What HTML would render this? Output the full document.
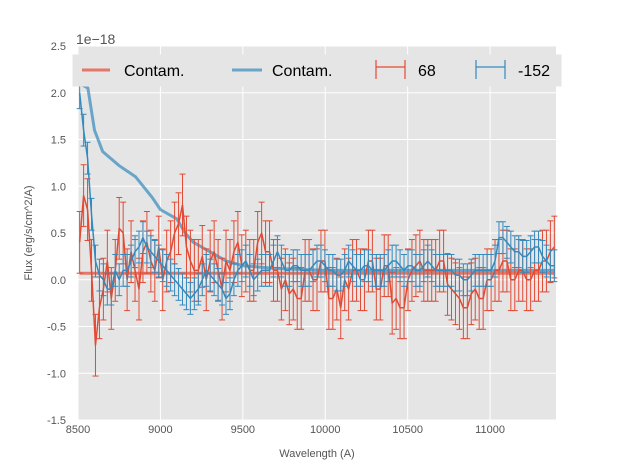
<!DOCTYPE html>
<html><head><meta charset="utf-8"><style>
body{margin:0;background:#fff;font-family:"Liberation Sans",sans-serif}
svg text{font-family:"Liberation Sans",sans-serif}
</style></head><body>
<svg id="c" width="617" height="467"></svg>
<script>
const wave=[];for(let w=8510;w<=11390;w+=24)wave.push(w);
const flux68=[0.4,0.9,0.75,0.1,-0.7,-0.3,-0.1,0.2,-0.2,0.1,0.55,0.5,0.0,0.3,0.1,-0.1,0.3,0.4,0.2,0.1,0.35,0.0,0.2,0.3,0.5,0.6,0.8,0.35,0.2,0.1,0.1,0.25,0.0,0.2,0.3,0.1,-0.1,0.2,0.1,0.3,0.4,0.15,0.2,0.1,0.1,0.4,0.5,0.3,0.3,0.1,0.1,-0.1,0.0,-0.15,-0.1,-0.2,-0.2,0.1,0.1,0.0,0.0,0.2,0.2,-0.2,-0.2,-0.1,-0.3,0.0,-0.1,0.1,0.1,0.0,0.0,0.2,0.2,-0.1,-0.1,0.15,0.15,-0.25,-0.2,-0.3,-0.3,0.0,0.1,0.15,0.2,0.1,0.1,0.1,0.1,0.2,0.2,-0.05,-0.1,-0.15,-0.2,-0.3,-0.3,-0.15,-0.1,-0.2,-0.2,0.0,0.0,0.1,0.1,0.2,0.2,0.0,0.0,0.1,0.1,0.0,0.0,0.1,0.1,0.2,0.2,0.3,0.35];
const flux152=[2.0,1.6,1.3,0.7,0.2,0.05,0.0,-0.1,-0.1,0.1,0.0,0.1,0.1,0.2,0.3,0.35,0.45,0.35,0.3,0.25,0.2,0.15,0.1,0.05,0.0,-0.05,-0.1,-0.15,-0.2,-0.15,-0.1,0.0,0.1,0.05,0.0,-0.05,-0.1,-0.2,-0.15,0.0,0.1,0.15,0.2,0.1,0.0,0.05,0.1,0.1,0.1,0.2,0.3,0.2,0.1,0.1,0.15,0.15,0.1,0.1,0.1,0.15,0.2,0.2,0.15,0.1,0.1,0.05,0.05,0.1,0.2,0.15,0.1,0.1,0.15,0.15,0.1,0.1,0.1,0.1,0.15,0.2,0.2,0.15,0.1,0.15,0.15,0.1,0.1,0.15,0.2,0.15,0.1,0.1,0.1,0.1,0.1,0.05,0.05,0.0,0.0,0.05,0.1,0.1,0.1,0.1,0.1,0.2,0.45,0.45,0.4,0.35,0.3,0.3,0.25,0.25,0.3,0.35,0.35,0.25,0.2,0.15,0.15];
const err68=0.33, err152=0.17;
const contWave=[8510,8560,8600,8650,8750,8850,8950,9000,9100,9150,9200,9300,9400,9500,9700,10000,11390];
const contBlue=[2.1,2.05,1.6,1.37,1.22,1.1,0.88,0.75,0.65,0.5,0.4,0.3,0.2,0.15,0.12,0.1,0.1];
const contRed=[0.07,0.07];
const contRedWave=[8510,11390];
const xTicks=[8500,9000,9500,10000,10500,11000];
const yTicks=[-1.5,-1.0,-0.5,0.0,0.5,1.0,1.5,2.0,2.5];

const L=78,R=556,T=46,B=420,x0=8500,x1=11400,y0=-1.5,y1=2.5;
const X=v=>L+(v-x0)/(x1-x0)*(R-L), Y=v=>B-(v-y0)/(y1-y0)*(B-T);
const svg=document.getElementById('c'),NS='http://www.w3.org/2000/svg';
function el(t,a,p){const e=document.createElementNS(NS,t);for(const k in a)e.setAttribute(k,a[k]);(p||svg).appendChild(e);return e;}
const bg=el('rect',{x:L,y:T,width:R-L,height:B-T,fill:'#e5e5e5'});


xTicks.forEach(t=>{const g=el('line',{x1:X(t),x2:X(t),y1:T,y2:B,stroke:'#fff','stroke-width':1});


const tx=el('text',{x:X(t),y:B+13,'font-size':11,fill:'#555','text-anchor':'middle'});tx.textContent=t;

});
yTicks.forEach(t=>{const g=el('line',{x1:L,x2:R,y1:Y(t),y2:Y(t),stroke:'#fff','stroke-width':1});


const tx=el('text',{x:L-12,y:Y(t)+4,'font-size':11,fill:'#555','text-anchor':'end'});tx.textContent=t.toFixed(1);

});
function line(xs,ys,col,w,op,name){const p=el('polyline',{points:xs.map((v,i)=>X(v)+','+Y(ys[i])).join(' '),fill:'none',stroke:col,'stroke-width':w,'stroke-opacity':op,'stroke-linejoin':'round'});

}
function errs(ys,e,col,name){const g=el('g',{stroke:col,'stroke-width':1});


wave.forEach((w,i)=>{const x=X(w),a=Y(ys[i]+e),b=Y(ys[i]-e);el('line',{x1:x,x2:x,y1:a,y2:b},g);el('line',{x1:x-3,x2:x+3,y1:a,y2:a},g);el('line',{x1:x-3,x2:x+3,y1:b,y2:b},g);});}
line(contRedWave,contRed,'#E24A33',3,0.7,'contam-red-line');
line(contWave,contBlue,'#348ABD',3,0.7,'contam-blue-line');
errs(flux68,err68,'#E24A33','errorbars-68');
line(wave,flux68,'#E24A33',1.5,1,'series-68');
errs(flux152,err152,'#348ABD','errorbars-152');
line(wave,flux152,'#348ABD',1.5,1,'series-152');
</script>
<svg width="617" height="467" style="position:absolute;left:0;top:0">
<text x="76" y="44" font-size="14" fill="#555">1e−18</text>
<text x="317" y="457" font-size="11" fill="#555" text-anchor="middle">Wavelength (A)</text>
<text transform="translate(32,233) rotate(-90)" font-size="11" fill="#555" text-anchor="middle">Flux (erg/s/cm^2/A)</text>
<g>
<rect x="73" y="55" width="488" height="31" fill="#e5e5e5" stroke="#e5e5e5"/>
<line x1="82" x2="110" y1="70" y2="70" stroke="#E24A33" stroke-width="3" stroke-opacity="0.7"/>
<text x="124" y="76" font-size="16" fill="#000">Contam.</text>
<line x1="232" x2="262" y1="70" y2="70" stroke="#348ABD" stroke-width="3" stroke-opacity="0.7"/>
<text x="272" y="76" font-size="16" fill="#000">Contam.</text>
<g stroke="#E24A33" stroke-width="1.2"><line x1="376" x2="405" y1="67" y2="67"/><line x1="376" x2="376" y1="60" y2="79"/><line x1="405" x2="405" y1="60" y2="79"/></g>
<text x="418" y="76" font-size="16" fill="#000">68</text>
<g stroke="#348ABD" stroke-width="1.2"><line x1="476" x2="505" y1="67" y2="67"/><line x1="476" x2="476" y1="60" y2="79"/><line x1="505" x2="505" y1="60" y2="79"/></g>
<text x="518" y="76" font-size="16" fill="#000">-152</text>
</g>
</svg>
</body></html>
